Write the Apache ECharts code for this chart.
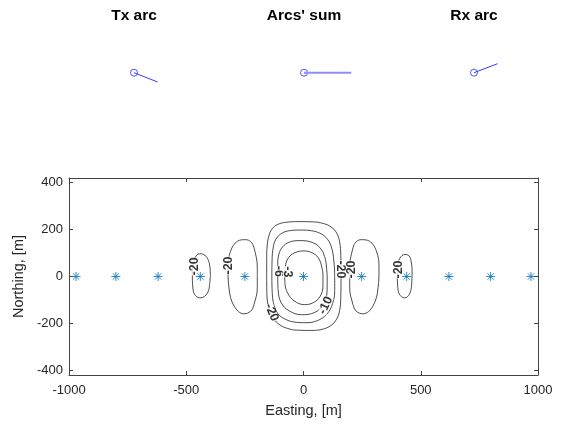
<!DOCTYPE html>
<html><head><meta charset="utf-8">
<script src="https://cdn.jsdelivr.net/npm/echarts@6/dist/echarts.min.js"></script>
<style>html,body{margin:0;padding:0;background:#fff}#c{width:563px;height:425px}</style>
</head><body><div id="c"></div>
<script>
// ---- data ----
const xTicks = [-1000, -500, 0, 500, 1000];
const yTicks = [-400, -200, 0, 200, 400];
const stationEasting  = [-970, -800, -620, -440, -250, 0, 248, 440, 620, 798, 970];
const stationNorthing = [0, 0, 0, 0, 0, 0, 0, 0, 0, 0, 0];

const arcTitles = ['Tx arc', "Arcs' sum", 'Rx arc'];
const txArc  = [0.472, -0.186];
const sumArc = [0.944, 0.0];
const rxArc  = [0.472, 0.18];

const contourLevels = [-20, -10, -6, -3, -20, -20, -20, -20];
const contourOuter20 = [[-157,0],[-157,80],[-155,130],[-148,172],[-134,203],[-110,222],[-75,231],[-20,234],[40,233],[85,226],[118,211],[141,186],[154,148],[159,90],[160,0],[159,-90],[154,-145],[141,-182],[117,-209],[80,-225],[30,-230],[-20,-229],[-55,-225],[-100,-207],[-128,-178],[-147,-137],[-156,-80],[-157,0]];
const contour10 = [[-135,0],[-134,70],[-129,125],[-117,160],[-93,184],[-55,196],[-10,198],[35,195],[75,182],[103,158],[120,122],[129,70],[133,0],[133,-60],[124,-115],[100,-160],[60,-188],[10,-197],[-40,-194],[-80,-181],[-108,-160],[-125,-125],[-133,-75],[-135,0]];
const contour6 = [[-110,0],[-110,50],[-105,95],[-90,125],[-62,146],[-15,153],[32,147],[68,125],[90,85],[99,30],[101,-20],[100,-70],[84,-120],[48,-153],[-8,-163],[-60,-147],[-95,-112],[-108,-60],[-110,0]];
const contour3 = [[-80,0],[-78,40],[-64,80],[-36,102],[0,109],[35,102],[63,80],[78,40],[83,0],[83,-30],[76,-75],[48,-108],[5,-120],[-40,-104],[-68,-70],[-79,-30],[-80,0]];
const contourLobeL = [[-197,0],[-197,37],[-211,122],[-225,148],[-247,157],[-282,150],[-311,108],[-322,37],[-318,-48],[-296,-126],[-254,-159],[-225,-148],[-211,-119],[-197,-48],[-197,0]];
const contourLobeR = [[197,0],[197,37],[211,122],[225,148],[247,157],[282,150],[311,108],[322,37],[318,-48],[296,-126],[254,-159],[225,-148],[211,-119],[197,-48],[197,0]];
const contourSmallL = [[-397,0],[-399,40],[-407,72],[-420,90],[-440,97],[-457,89],[-470,55],[-474,9],[-472,-45],[-464,-77],[-443,-91],[-421,-84],[-405,-60],[-400,-30],[-397,0]];
const contourSmallR = [[400,0],[402,45],[411,78],[432,94],[450,88],[459,65],[463,20],[461,-35],[452,-75],[432,-91],[413,-82],[403,-55],[400,0]];
const contourPaths = [contourOuter20, contour10, contour6, contour3, contourLobeL, contourLobeR, contourSmallL, contourSmallR];

const labelText     = ['-20', '-20', '-20', '-6', '-3', '-10', '-20', '-20', '-20'];
const labelEasting  = [-464, -321, -136, -108, -70, 95, 156, 203, 406];
const labelNorthing = [43, 47, -153, 22, 20, -123, 30, 30, 30];
const labelAngle    = [90, 90, -68, -90, -90, 65, -90, 90, 90];

// ---- chart ----
const FONT = 'Liberation Sans';
const AX = '#262626';
const chart = echarts.init(document.getElementById('c'), null, {renderer: 'canvas'});

const miniCenters = [134, 304, 474];
const arcs = [txArc, sumArc, rxArc];
const grids = miniCenters.map(cx => ({left: cx - 50, top: 22.7, width: 100, height: 100}));
grids.push({left: 69, right: 25, top: 178, bottom: 50});

const xAxes = miniCenters.map((c, i) => ({gridIndex: i, type: 'value', min: -1, max: 1, show: false}));
const yAxes = miniCenters.map((c, i) => ({gridIndex: i, type: 'value', min: -1, max: 1, show: false}));

const axLine = {show: true, onZero: false, lineStyle: {color: '#444', width: 1}};
const tick = {inside: true, length: 4, lineStyle: {color: '#444'}};
const plain = v => String(v);
xAxes.push({
  gridIndex: 3, type: 'value', min: -1000, max: 1000, interval: 500,
  name: 'Easting, [m]', nameLocation: 'middle', nameGap: 28,
  nameTextStyle: {color: AX, fontFamily: FONT, fontSize: 14.5},
  axisLine: axLine, axisTick: tick,
  axisLabel: {color: AX, fontFamily: FONT, fontSize: 13, margin: 9, formatter: plain},
  splitLine: {show: false}
});
xAxes.push({
  gridIndex: 3, type: 'value', position: 'top', min: -1000, max: 1000, interval: 500,
  axisLine: axLine, axisTick: tick,
  axisLabel: {show: false}, splitLine: {show: false}
});
yAxes.push({
  gridIndex: 3, type: 'value', min: -420, max: 420,
  name: 'Northing, [m]', nameLocation: 'middle', nameGap: 32, nameRotate: 90,
  nameTextStyle: {color: AX, fontFamily: FONT, fontSize: 14.5},
  axisLine: axLine,
  axisTick: Object.assign({customValues: yTicks}, tick),
  axisLabel: {color: AX, fontFamily: FONT, fontSize: 13, margin: 6, customValues: yTicks, formatter: plain},
  splitLine: {show: false}
});
yAxes.push({
  gridIndex: 3, type: 'value', position: 'right', min: -420, max: 420,
  axisLine: axLine,
  axisTick: Object.assign({customValues: yTicks}, tick),
  axisLabel: {show: false}, splitLine: {show: false}
});

const series = [];
// mini arc plots
arcs.forEach((v, i) => {
  series.push({
    type: 'line', xAxisIndex: i, yAxisIndex: i, silent: true,
    data: [[0, 0], v], showSymbol: false, symbol: 'none',
    lineStyle: {color: i === 1 ? '#8c8cff' : '#3a3aff', width: i === 1 ? 2 : 1}
  });
  series.push({
    type: 'scatter', xAxisIndex: i, yAxisIndex: i, silent: true,
    data: [[0, 0]], symbol: 'circle', symbolSize: 7,
    itemStyle: {color: 'rgba(0,0,0,0)', borderColor: '#2a2aff', borderWidth: 1}
  });
});
// contours
contourPaths.forEach((p, k) => {
  series.push({
    type: 'line', name: 'level ' + contourLevels[k], xAxisIndex: 3, yAxisIndex: 3, silent: true,
    data: p, symbol: 'none', showSymbol: false, smooth: 0.4,
    lineStyle: {color: '#000', width: 0.7}, z: 2
  });
});
// contour labels
series.push({
  type: 'scatter', xAxisIndex: 3, yAxisIndex: 3, silent: true, z: 3,
  symbolSize: 0.1, itemStyle: {color: 'rgba(0,0,0,0)'},
  data: labelText.map((t, i) => ({
    name: t, value: [labelEasting[i], labelNorthing[i]],
    label: {rotate: labelAngle[i]}
  })),
  label: {
    show: true, position: 'inside', formatter: p => p.name,
    color: '#000', fontFamily: FONT, fontWeight: 'bold', fontSize: 12.5, lineHeight: 9,
    backgroundColor: '#fff', padding: [0, 0]
  }
});
// stations
series.push({
  type: 'scatter', xAxisIndex: 3, yAxisIndex: 3, silent: true, z: 4,
  data: stationEasting.map((e, i) => [e, stationNorthing[i]]),
  symbol: 'path://M0,-4L0,4M-4,0L4,0M-2.83,-2.83L2.83,2.83M-2.83,2.83L2.83,-2.83',
  symbolSize: 9,
  itemStyle: {color: 'rgba(0,0,0,0)', borderColor: '#0072BD', borderWidth: 1}
});

chart.setOption({
  animation: false,
  backgroundColor: '#fff',
  grid: grids,
  xAxis: xAxes,
  yAxis: yAxes,
  series: series,
  graphic: arcTitles.map((t, i) => ({
    type: 'text', x: miniCenters[i], y: 16,
    style: {text: t, textAlign: 'center', textVerticalAlign: 'middle',
            font: 'bold 15.5px "Liberation Sans"', fill: '#000'}
  }))
});
</script>
</body></html>
